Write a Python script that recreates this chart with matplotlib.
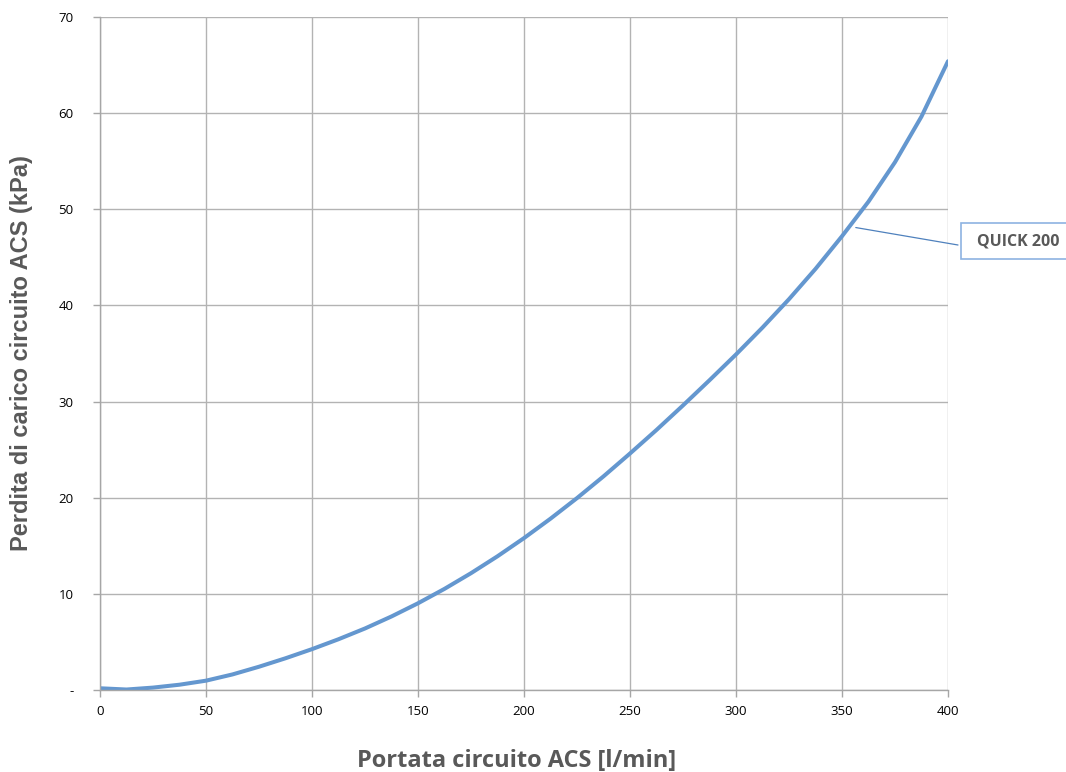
import matplotlib
matplotlib.use("Agg")
import matplotlib.pyplot as plt
from matplotlib.patches import Rectangle

# Data
flow = [0, 12.5, 25, 37.5, 50, 62.5, 75, 87.5, 100, 112.5, 125, 137.5, 150, 162.5,
        175, 187.5, 200, 212.5, 225, 237.5, 250, 262.5, 275, 287.5, 300, 312.5,
        325, 337.5, 350, 362.5, 375, 387.5, 400]
loss = [0.18, 0.05, 0.25, 0.55, 0.97, 1.62, 2.42, 3.30, 4.25, 5.28, 6.40, 7.65, 9.02,
        10.52, 12.15, 13.91, 15.80, 17.82, 19.96, 22.22, 24.60, 27.05, 29.60, 32.22,
        34.90, 37.70, 40.65, 43.80, 47.20, 50.80, 54.90, 59.65, 65.40]
series_name = "QUICK 200"
x_ticks = [0, 50, 100, 150, 200, 250, 300, 350, 400]
y_ticks = [0, 10, 20, 30, 40, 50, 60, 70]
y_tick_labels = ["-", "10", "20", "30", "40", "50", "60", "70"]

W, H = 1066, 772
fig = plt.figure(figsize=(W / 100, H / 100), dpi=100)
ax = fig.add_axes([100 / W, 1 - 690 / H, 848 / W, 673 / H])

ax.plot(flow, loss, color="#6497cf", linewidth=2.9, solid_capstyle="round",
        solid_joinstyle="round")

ax.set_xlim(0, 400)
ax.set_ylim(0, 70)
ax.set_xticks(x_ticks)
ax.set_yticks(y_ticks)
ax.set_yticklabels(y_tick_labels)
ax.grid(True, color="#b3b3b3", linewidth=1.0)
ax.set_axisbelow(True)
for s in ["top", "right"]:
    ax.spines[s].set_visible(False)
for s in ["left", "bottom"]:
    ax.spines[s].set_color("#a6a6a6")
    ax.spines[s].set_linewidth(1.0)
ax.tick_params(axis="both", colors="#a6a6a6", labelcolor="black", labelsize=9.5,
               length=5, width=1.0)
ax.tick_params(axis="y", pad=14)
ax.tick_params(axis="x", pad=6)
for lab in ax.get_xticklabels() + ax.get_yticklabels():
    lab.set_family("Open Sans")

ax.set_xlabel("Portata circuito ACS [l/min]", fontsize=17, fontweight="bold",
              color="#595959", family="Open Sans", labelpad=18)
ax.xaxis.set_label_coords(0.491, -0.088)
ax.set_ylabel("Perdita di carico circuito ACS (kPa)", fontsize=17, fontweight="bold",
              color="#595959", family="Liberation Sans", labelpad=18)

# Series label with leader line
ax.annotate("", xy=(356.5, 48.1), xycoords="data",
            xytext=(958 / W, 1 - 245 / H), textcoords="figure fraction",
            arrowprops=dict(arrowstyle="-", color="#4f81bd", lw=0.9,
                            shrinkA=0, shrinkB=0),
            annotation_clip=False)
fig.patches.append(Rectangle((961 / W, 1 - 259 / H), 120 / W, 36 / H,
                             transform=fig.transFigure, fc="white",
                             ec="#8db3e2", lw=1.2, clip_on=False))
fig.text(977 / W, 1 - 241.5 / H, series_name, ha="left", va="center",
         fontsize=11.5, fontweight="bold", color="#595959", family="Open Sans")

fig.savefig("out.png", dpi=100)
